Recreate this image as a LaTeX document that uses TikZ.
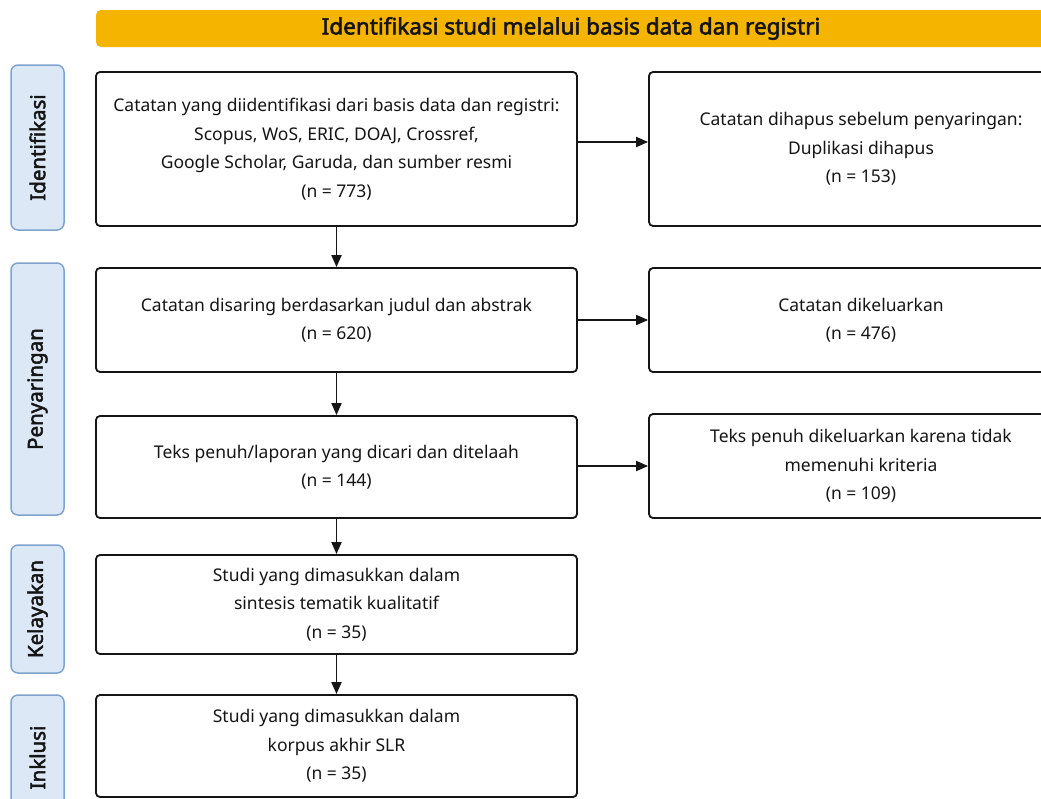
\documentclass[tikz,border=0pt]{standalone}
\usepackage{fontspec}
\setmainfont{Noto Sans}[AutoFakeBold=2.4]
\usepackage{xcolor}
\definecolor{PrismaGold}{HTML}{F5B400}
\definecolor{StageBlue}{HTML}{DCE8F6}
\definecolor{StageEdge}{HTML}{7FA3CF}
\definecolor{InkBlack}{HTML}{151515}
\usepackage{tikz}
\usetikzlibrary{arrows.meta, positioning, calc}
\tikzstyle{block} = [rectangle, draw=InkBlack, fill=white, text=InkBlack, rounded corners=4pt, line width=1.8pt, align=center, font=\fontsize{17.5}{28.5}\selectfont, inner sep=0pt]
\tikzstyle{stage} = [rectangle, draw=StageEdge, fill=StageBlue, text=InkBlack, rounded corners=7pt, line width=1.5pt, minimum height=53pt, font=\fontsize{20.5}{22}\selectfont\bfseries, inner sep=0pt]
\tikzstyle{header} = [rectangle, fill=PrismaGold, text=InkBlack, rounded corners=5pt, minimum height=37pt, font=\fontsize{22.5}{24}\selectfont\bfseries, inner sep=0pt]
\tikzstyle{arrow} = [-{Triangle[length=12pt,width=10pt]}, color=InkBlack, line width=1.8pt]

\begin{document}
\begin{tikzpicture}[x=1pt, y=-1pt]
        \clip (0,0) rectangle (1041,798);
        \fill[white] (0,0) rectangle (1041,798);

        \node [header, minimum width=950pt] (title) at (571,28.5) {Identifikasi studi melalui basis data dan registri};

        % stage labels
        \node [stage, minimum width=165pt, rotate=90] (sIdent) at (37.5,147.5) {Identifikasi};
        \node [stage, minimum width=252pt, rotate=90] (sScreen) at (37.5,389) {Penyaringan};
        \node [stage, minimum width=128pt, rotate=90] (sElig) at (37.5,609) {Kelayakan};
        \node [stage, minimum width=125pt, rotate=90] (sIncl) at (37.5,757.5) {Inklusi};

        % main column
        \node [block, minimum width=481pt, minimum height=154pt] (found) at (336.5,149) {Catatan yang diidentifikasi dari basis data dan registri:\\Scopus, WoS, ERIC, DOAJ, Crossref,\\Google Scholar, Garuda, dan sumber resmi\\(n = 773)};
        \node [block, minimum width=481pt, minimum height=104pt] (screened) at (336.5,320) {Catatan disaring berdasarkan judul dan abstrak\\(n = 620)};
        \node [block, minimum width=481pt, minimum height=102pt] (fulltext) at (336.5,467) {Teks penuh/laporan yang dicari dan ditelaah\\(n = 144)};
        \node [block, minimum width=481pt, minimum height=99pt] (synth) at (336.5,604.5) {Studi yang dimasukkan dalam\\sintesis tematik kualitatif\\(n = 35)};
        \node [block, minimum width=481pt, minimum height=102pt] (corpus) at (336.5,746) {Studi yang dimasukkan dalam\\korpus akhir SLR\\(n = 35)};

        % excluded column
        \node [block, minimum width=424pt, minimum height=154pt] (dupes) at (861,149) {Catatan dihapus sebelum penyaringan:\\Duplikasi dihapus\\(n = 153)};
        \node [block, minimum width=424pt, minimum height=104pt] (dropped) at (861,320) {Catatan dikeluarkan\\(n = 476)};
        \node [block, minimum width=424pt, minimum height=104pt] (unfit) at (861,466) {Teks penuh dikeluarkan karena tidak\\memenuhi kriteria\\(n = 109)};

        \draw [arrow] (found) -- (screened);
        \draw [arrow] (screened) -- (fulltext);
        \draw [arrow] (fulltext) -- (synth);
        \draw [arrow] (synth) -- (corpus);

        \draw [arrow] (found.east |- 0,142) -- (dupes.west |- 0,142);
        \draw [arrow] (screened) -- (dropped);
        \draw [arrow] (fulltext.east |- unfit) -- (unfit);
    \end{tikzpicture}
\end{document}
